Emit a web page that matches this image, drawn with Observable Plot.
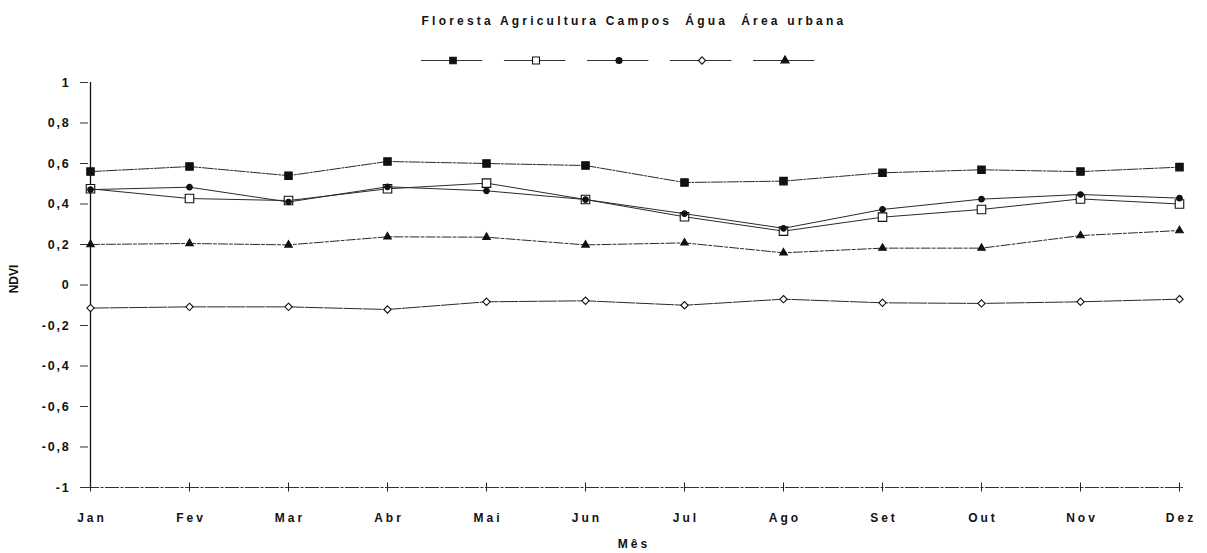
<!DOCTYPE html>
<html>
<head>
<meta charset="utf-8">
<script src="https://cdn.jsdelivr.net/npm/d3@7"></script>
<script src="https://cdn.jsdelivr.net/npm/@observablehq/plot@0.6"></script>
<style>
  html, body { margin: 0; padding: 0; background: #fff; overflow: hidden; }
  #wrap { position: relative; width: 1207px; height: 553px; font-family: "Liberation Sans", Arial, sans-serif; font-weight: bold; color: #111; overflow: hidden; }
  #title { position: absolute; top: 14px; left: 85px; width: 1098px; text-align: center; font-size: 12px; letter-spacing: 3.2px; white-space: pre; line-height: 14px; }
  #legend { position: absolute; top: 50px; left: 411px; }
  #xlabel { position: absolute; top: 537px; left: 85px; width: 1098px; text-align: center; font-size: 12px; letter-spacing: 3px; line-height: 14px; }
  #ylabel { position: absolute; top: 272px; left: 0px; font-size: 12px; line-height: 14px; transform: rotate(-90deg); transform-origin: center; }
  #chart { position: absolute; top: 0; left: 0; }
  #chart g[aria-label="y-axis tick label"] text { letter-spacing: 1.8px; }
  #chart g[aria-label="x-axis tick label"] text { letter-spacing: 3px; }
</style>
</head>
<body>
<div id="wrap">
  <div id="chart"></div>
  <div id="title"></div>
  <div id="legend"></div>
  <div id="xlabel">Mês</div>
  <div id="ylabel">NDVI</div>
</div>
<script>
const months = ["Jan","Fev","Mar","Abr","Mai","Jun","Jul","Ago","Set","Out","Nov","Dez"];
const seriesNames = ["Floresta","Agricultura","Campos","Água","Área urbana"];
const floresta    = [0.56, 0.585, 0.54, 0.61, 0.60, 0.59, 0.506, 0.513, 0.554, 0.569, 0.56, 0.582];
const agricultura = [0.475, 0.427, 0.417, 0.475, 0.503, 0.422, 0.337, 0.266, 0.335, 0.373, 0.425, 0.40];
const campos      = [0.471, 0.483, 0.41, 0.485, 0.465, 0.422, 0.352, 0.28, 0.373, 0.424, 0.447, 0.429];
const agua        = [-0.114, -0.108, -0.108, -0.121, -0.083, -0.078, -0.10, -0.07, -0.088, -0.091, -0.083, -0.07];
const urbana      = [0.20, 0.205, 0.198, 0.238, 0.236, 0.198, 0.208, 0.159, 0.182, 0.182, 0.244, 0.269];
const yTicks = [-1, -0.8, -0.6, -0.4, -0.2, 0, 0.2, 0.4, 0.6, 0.8, 1];

const seriesValues = [floresta, agricultura, campos, agua, urbana];
const symbols = ["square", "square", "circle", "diamond2", "triangle"];
const fills   = ["#111", "#fff", "#111", "#fff", "#111"];
const radii   = [4.2, 4.8, 2.8, 3.3, 2.8];
const dashes  = ["11,1.5,2,1.5", null, null, "18,1.5", "9,2,3,2"];

const data = [];
seriesNames.forEach((s, i) => seriesValues[i].forEach((v, j) => data.push({serie: s, month: months[j], value: v})));

const fmt = d => String(Math.round(d * 10) / 10).replace(".", ",");

const W = 1207, H = 553, mL = 85, mR = 24, mT = 82, mB = 66;
const plotW = W - mL - mR, plotH = H - mT - mB;

const marks = [
  Plot.ruleX([months[0]], {stroke: "#111", strokeWidth: 1.3}),
  Plot.ruleY([-1], {stroke: "#333", strokeWidth: 1, strokeDasharray: "14,1.5,3,1.5"}),
  Plot.tickY(yTicks, {y: d => d, insetRight: plotW - 8, dx: -5, stroke: "#333"}),
  Plot.tickX(months, {x: d => d, insetTop: plotH - 9, dy: 4.5, stroke: "#222"}),
  Plot.axisY({ticks: yTicks, tickSize: 0, tickPadding: 15, tickFormat: fmt, fontSize: 12.5, fontWeight: "bold", label: null}),
  Plot.axisX({tickSize: 0, tickPadding: 26, fontSize: 12, fontWeight: "bold", label: null, dx: 1.5}),
];
seriesNames.forEach((s, i) => {
  const d = data.filter(r => r.serie === s);
  marks.push(Plot.line(d, {x: "month", y: "value", stroke: "#2a2a2a", strokeWidth: 1, strokeDasharray: dashes[i]}));
  marks.push(Plot.dot(d, {x: "month", y: "value", symbol: () => symbols[i], r: radii[i], fill: fills[i], stroke: "#111", strokeWidth: 1.1}));
});

const chart = Plot.plot({
  width: W, height: H,
  marginLeft: mL, marginRight: mR, marginTop: mT, marginBottom: mB,
  style: {fontFamily: "'Liberation Sans', Arial, sans-serif", fontWeight: "bold", color: "#111", background: "transparent"},
  x: {type: "point", domain: months, padding: 0, range: [mL, W - mR]},
  y: {domain: [-1, 1], range: [H - mB, mT]},
  symbol: {type: "identity"},
  marks
});
document.getElementById("chart").append(chart);

document.getElementById("title").textContent = "Floresta Agricultura Campos  Água  Área urbana";

// legend: one sample per series
const legData = seriesNames.map((s, i) => ({i, serie: s}));
const legend = Plot.plot({
  width: 415, height: 20, margin: 0,
  x: {domain: [-0.5, 4.5], axis: null},
  y: {domain: [-1, 1], axis: null},
  symbol: {type: "identity"},
  style: {background: "transparent"},
  marks: [
    Plot.ruleY(legData, {x1: d => d.i - 0.38, x2: d => d.i + 0.36, y: 0, stroke: "#333", strokeWidth: 1, strokeDasharray: d => dashes[d.i] ?? "none"}),
    Plot.dot(legData, {x: "i", y: 0, symbol: d => symbols[d.i], r: d => radii[d.i], fill: d => fills[d.i], stroke: "#111", strokeWidth: 1.1})
  ]
});
document.getElementById("legend").append(legend);
</script>
</body>
</html>
